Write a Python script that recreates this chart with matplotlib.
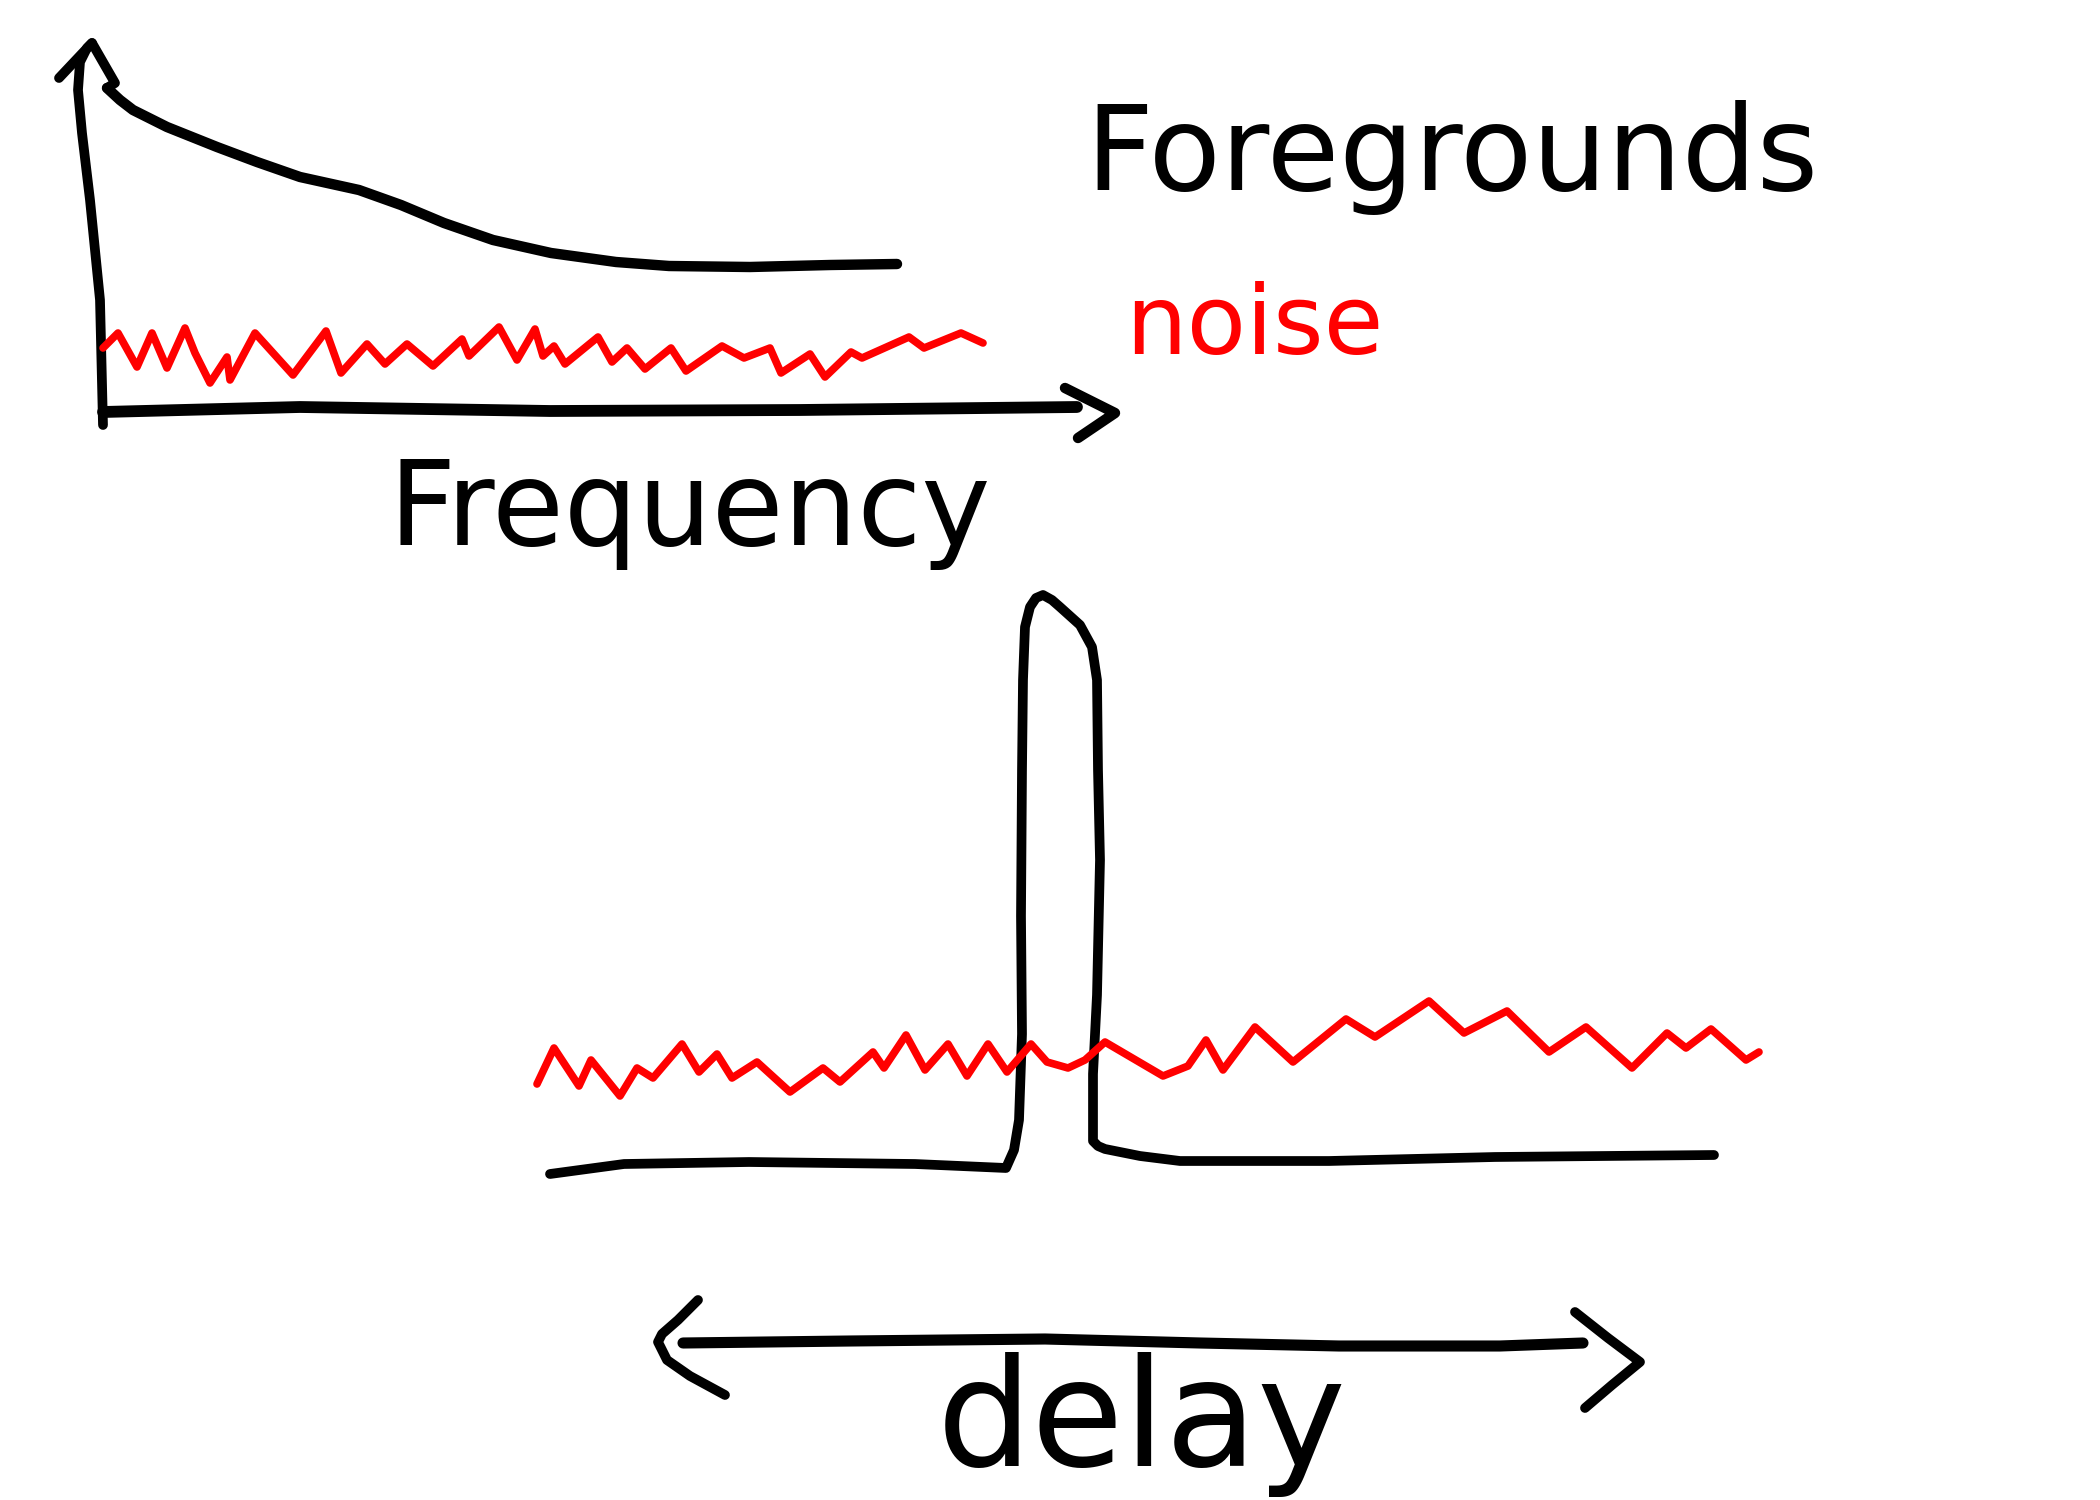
import matplotlib
matplotlib.use("Agg")
import matplotlib.pyplot as plt

# Sketch of foregrounds vs noise in frequency and delay space.
# All coordinates are in pixels of the 2100x1500 canvas (y grows downward).

# --- top panel: frequency space ---
yaxis_x = [103, 100, 95, 90, 82, 78, 80, 87, 92]
yaxis_y = [425, 300, 250, 200, 133, 90, 62, 48, 43]
yarrow_x = [59, 92, 115, 107]
yarrow_y = [78, 43, 83, 88]
xaxis_x = [103, 300, 550, 800, 1077]
xaxis_y = [412, 407, 411, 410, 407]
xarrow_x = [1065, 1115, 1078]
xarrow_y = [388, 413, 438]

fg_x = [107, 120, 133, 167, 217, 257, 300, 359, 401, 444, 493, 551, 616, 669,
        750, 830, 897]
fg_y = [88, 100, 110, 127, 147, 162, 177, 190, 205, 223, 240, 253, 262, 266,
        267, 265, 264]

noise_top_x = [103, 118, 137, 152, 167, 185, 195, 210, 227, 230, 255, 293, 326,
               341, 367, 385, 407, 433, 462, 469, 499, 517, 535, 543, 554, 565,
               598, 612, 627, 645, 671, 686, 722, 744, 770, 781, 810, 825, 851,
               862, 909, 924, 961, 983]
noise_top_y = [348, 333, 367, 333, 368, 328, 353, 383, 357, 380, 333, 375, 331,
               373, 344, 364, 344, 366, 339, 356, 327, 360, 329, 356, 346, 364,
               337, 362, 348, 369, 348, 371, 346, 358, 348, 373, 354, 377, 352,
               358, 337, 348, 333, 343]

# --- bottom panel: delay space ---
fg_delay_x = [550, 624, 749, 915, 1006, 1014, 1019, 1022, 1021, 1022, 1023,
              1025, 1030, 1036, 1043, 1052, 1060, 1080, 1092, 1097, 1098, 1100,
              1097, 1093, 1093, 1098, 1105, 1140, 1180, 1329, 1495, 1714]
fg_delay_y = [1174, 1164, 1162, 1164, 1168, 1150, 1120, 1034, 916, 770, 680,
              627, 607, 598, 595, 600, 607, 625, 647, 680, 770, 860, 995, 1074,
              1141, 1146, 1149, 1156, 1161, 1161, 1157, 1155]

noise_delay_x = [537, 554, 579, 591, 620, 637, 653, 682, 699, 717, 732, 757, 790,
                 823, 840, 873, 884, 906, 925, 948, 967, 988, 1007, 1031, 1047,
                 1068, 1085, 1105, 1163, 1188, 1206, 1223, 1255, 1293, 1346, 1375,
                 1429, 1464, 1507, 1549, 1586, 1632, 1667, 1686, 1711, 1746, 1759]
noise_delay_y = [1084, 1048, 1086, 1060, 1096, 1068, 1078, 1044, 1072, 1054, 1078,
                 1062, 1092, 1068, 1082, 1052, 1068, 1035, 1070, 1044, 1076, 1044,
                 1072, 1044, 1062, 1068, 1060, 1042, 1076, 1066, 1040, 1070, 1027,
                 1062, 1019, 1037, 1001, 1033, 1011, 1052, 1027, 1068, 1033, 1048,
                 1029, 1060, 1052]

shaft_x = [683, 850, 1045, 1200, 1339, 1500, 1583]
shaft_y = [1343, 1341, 1339, 1343, 1346, 1346, 1343]
left_head_x = [698, 678, 662, 658, 667, 690, 725]
left_head_y = [1300, 1320, 1334, 1342, 1360, 1376, 1395]
right_head_x = [1575, 1608, 1640, 1612, 1585]
right_head_y = [1312, 1338, 1362, 1385, 1408]

black = "black"
red = "#ff0000"

fig = plt.figure(figsize=(21, 15), dpi=100)
ax = fig.add_axes([0, 0, 1, 1])
ax.set_xlim(0, 2100)
ax.set_ylim(1500, 0)
ax.axis("off")

style = dict(solid_capstyle="round", solid_joinstyle="round")

ax.plot(yaxis_x, yaxis_y, color=black, lw=7, **style)
ax.plot(yarrow_x, yarrow_y, color=black, lw=7, **style)
ax.plot(xaxis_x, xaxis_y, color=black, lw=8.5, **style)
ax.plot(xarrow_x, xarrow_y, color=black, lw=7.5, **style)
ax.plot(fg_x, fg_y, color=black, lw=7.5, **style)
ax.plot(noise_top_x, noise_top_y, color=red, lw=5.5, **style)

ax.plot(fg_delay_x, fg_delay_y, color=black, lw=7, **style)
ax.plot(noise_delay_x, noise_delay_y, color=red, lw=5.5, **style)
ax.plot(shaft_x, shaft_y, color=black, lw=8, **style)
ax.plot(left_head_x, left_head_y, color=black, lw=7, **style)
ax.plot(right_head_x, right_head_y, color=black, lw=7, **style)

font = "DejaVu Sans"
ax.text(1085, 190, "Foregrounds", fontsize=85, family=font, color=black,
        ha="left", va="baseline")
ax.text(1125, 354, "noise", fontsize=70, family=font, color=red,
        ha="left", va="baseline")
ax.text(388, 545, "Frequency", fontsize=84, family=font, color=black,
        ha="left", va="baseline")
ax.text(937, 1466, "delay", fontsize=108, family=font, color=black,
        ha="left", va="baseline")

fig.savefig("out.png", dpi=100, facecolor="white")
